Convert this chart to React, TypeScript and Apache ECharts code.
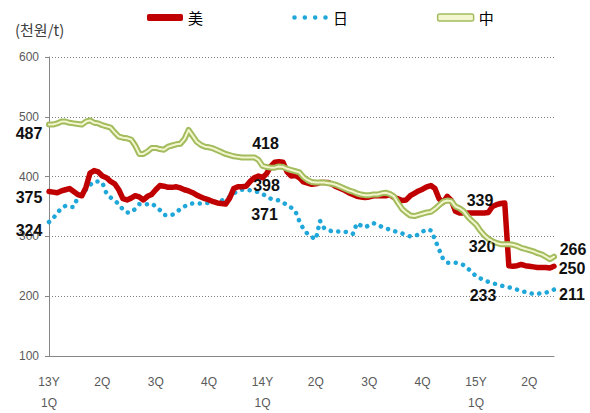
import React, { useEffect, useRef } from 'react';
import * as echarts from 'echarts';

// ---- data ----
const quarterLabels = ['13Y\n1Q', '2Q', '3Q', '4Q', '14Y\n1Q', '2Q', '3Q', '4Q', '15Y\n1Q', '2Q'];
const weeksPerQuarter = 13;

const meiValues = [
  375, 374, 373, 376, 378, 380, 375, 370, 368, 382,
  406, 410, 408, 401, 398, 392, 388, 378, 363, 361,
  364, 368, 366, 361, 367, 370, 378, 385, 384, 382,
  382, 383, 381, 378, 376, 373, 369, 366, 363, 361,
  358, 356, 355, 354, 364, 380, 383, 383, 384, 392,
  398, 401, 398, 405, 417, 424, 425, 424, 408, 401,
  402, 398, 391, 389, 387, 388, 390, 390, 390, 387,
  383, 380, 377, 373, 370, 367, 366, 365, 366, 368,
  368, 368, 368, 370, 365, 363, 360, 361, 368, 372,
  376, 379, 383, 385, 380, 363, 357, 367, 360, 342,
  339, 339, 339, 339, 339, 339, 339, 340, 350, 353,
  355, 356, 251, 250, 251, 253, 251, 250, 249, 248,
  248, 248, 247, 250,
];

const riValues = [
  324, 330, 339, 347, 351, 349, 349, 365, 372, 378,
  386, 392, 392, 390, 372, 365, 360, 354, 345, 340,
  340, 346, 354, 353, 354, 355, 350, 344, 336, 335,
  336, 340, 346, 350, 354, 355, 355, 355, 356, 356,
  357, 358, 360, 362, 366, 372, 376, 378, 378, 377,
  376, 374, 371, 367, 363, 362, 360, 357, 352, 348,
  342, 325, 312, 304, 299, 295, 326, 314, 311, 308,
  308, 308, 308, 306, 304, 322, 318, 315, 319, 322,
  320, 316, 314, 311, 309, 307, 305, 302, 300, 301,
  303, 308, 312, 310, 295, 278, 262, 256, 256, 256,
  255, 252, 246, 241, 233, 230, 227, 224, 222, 220,
  218, 216, 215, 213, 211, 209, 207, 205, 204, 204,
  205, 206, 208, 211,
];

const zhongValues = [
  487, 487, 489, 492, 492, 490, 489, 488, 487, 492,
  494, 490, 489, 486, 484, 482, 474, 467, 465, 464,
  462, 452, 438, 438, 442, 448, 448, 446, 445, 450,
  452, 454, 455, 463, 478, 468, 458, 453, 450, 449,
  447, 444, 441, 438, 436, 434, 433, 432, 432, 432,
  432, 428, 418, 416, 415, 415, 417, 416, 413, 411,
  409, 407, 399, 394, 391, 390, 390, 390, 389, 388,
  386, 383, 380, 377, 375, 372, 370, 369, 369, 370,
  370, 372, 373, 371, 367, 356, 346, 340, 335, 334,
  336, 338, 340, 341, 346, 352, 358, 360, 359, 350,
  347, 342, 333, 326, 320, 310, 302, 296, 292, 289,
  287, 287, 287, 286, 284, 281, 279, 277, 275, 272,
  270, 266, 262, 266,
];

// indices of annotated points (start, 14Y 1Q, 15Y 1Q, end)
const labelIndices = [0, 52, 104, 123];

const seriesNames = ['美', '日', '中'];
const unitLabel = '(천원/t)';

// ---- styles ----
const RED = '#C00000';
const CYAN = '#1FA7DA';
const OLIVE = '#A3BC5E';
const PALE = '#F3F6CF';
const LABEL_FONT = 'Liberation Sans, Arial, sans-serif';
const CJK_FONT = 'Noto Sans CJK KR, sans-serif';

const meiOffsets = [[-20, 6], [4, 8], [4, -13], [18, 2]];
const riOffsets = [[-20, 8], [2, 21], [7, 19], [18, 5]];
const zhongOffsets = [[-20, 9], [3, -22], [6, 22], [19, -7]];

const weekLabels = meiValues.map((_, i) =>
  i % weeksPerQuarter === 0 ? quarterLabels[i / weeksPerQuarter] ?? '' : ''
);

function withLabels(values: number[], offsets: number[][]) {
  return values.map((v, i) => {
    const k = labelIndices.indexOf(i);
    if (k < 0) return v;
    return {
      value: v,
      label: {
        show: true,
        position: 'inside',
        offset: offsets[k],
        formatter: '{c}',
        fontFamily: LABEL_FONT,
        fontWeight: 'bold',
        fontSize: 16,
        color: '#111',
      },
    };
  });
}

const dotIcon =
  'path://M0,0h0.01v0.01h-0.01zM0,7h0.01v-0.01h-0.01z' +
  'M0.2,3.5a2.3,2.3 0 1,0 4.6,0a2.3,2.3 0 1,0 -4.6,0z' +
  'M10.53,3.5a2.3,2.3 0 1,0 4.6,0a2.3,2.3 0 1,0 -4.6,0z' +
  'M20.87,3.5a2.3,2.3 0 1,0 4.6,0a2.3,2.3 0 1,0 -4.6,0z' +
  'M31.2,3.5a2.3,2.3 0 1,0 4.6,0a2.3,2.3 0 1,0 -4.6,0z';

const commonLine = {
  type: 'line',
  symbol: 'circle',
  symbolSize: 1,
  showSymbol: true,
  showAllSymbol: true,
  itemStyle: { color: 'rgba(0,0,0,0)' },
  label: { show: false },
  emphasis: { disabled: true },
  silent: true,
};

const option = {
  animation: false,
  backgroundColor: '#ffffff',
  title: {
    text: unitLabel,
    left: 10,
    top: 17,
    textStyle: { fontSize: 15, fontWeight: 'normal', color: '#404040', fontFamily: CJK_FONT },
  },
  legend: {
    left: 142,
    top: 5,
    itemGap: 89,
    itemWidth: 36,
    itemHeight: 7,
    selectedMode: false,
    textStyle: { fontSize: 15, color: '#000', fontFamily: CJK_FONT },
    data: [
      { name: seriesNames[0], icon: 'roundRect', itemStyle: { color: RED } },
      { name: seriesNames[1], icon: dotIcon, itemStyle: { color: CYAN } },
      {
        name: seriesNames[2],
        icon: 'roundRect',
        itemStyle: { color: PALE, borderColor: OLIVE, borderWidth: 1.5 },
      },
    ],
  },
  grid: { left: 49, right: 36, top: 57, bottom: 56, containLabel: false },
  xAxis: {
    type: 'category',
    boundaryGap: false,
    data: weekLabels,
    axisLine: { lineStyle: { color: '#868686', width: 1 } },
    axisTick: { show: false },
    axisLabel: {
      interval: 0,
      color: '#595959',
      fontSize: 12,
      lineHeight: 21,
      margin: 15,
      fontFamily: LABEL_FONT,
    },
    splitLine: { show: false },
  },
  yAxis: {
    type: 'value',
    min: 100,
    max: 600,
    interval: 100,
    axisLine: { show: true, lineStyle: { color: '#868686', width: 1 } },
    axisTick: { show: true, length: 4, lineStyle: { color: '#868686' } },
    axisLabel: { color: '#595959', fontSize: 12, margin: 10, fontFamily: LABEL_FONT },
    splitLine: { lineStyle: { color: '#7f7f7f', type: [1, 2], width: 1 } },
  },
  series: [
    {
      ...commonLine,
      name: seriesNames[1],
      data: withLabels(riValues, riOffsets),
      lineStyle: { color: CYAN, width: 4.5, type: [0.1, 7.5], cap: 'round' },
      z: 2,
    },
    {
      ...commonLine,
      name: seriesNames[0],
      data: withLabels(meiValues, meiOffsets),
      lineStyle: { color: RED, width: 5.5, join: 'round', cap: 'round' },
      z: 3,
    },
    {
      ...commonLine,
      name: seriesNames[2],
      data: withLabels(zhongValues, zhongOffsets),
      lineStyle: { color: OLIVE, width: 6, join: 'round', cap: 'round' },
      z: 4,
    },
    {
      ...commonLine,
      name: seriesNames[2] + '_inner',
      data: zhongValues,
      showSymbol: false,
      lineStyle: { color: PALE, width: 2, join: 'round', cap: 'round' },
      z: 5,
    },
  ],
};

export default function App() {
  const ref = useRef<HTMLDivElement>(null);
  useEffect(() => {
    if (!ref.current) return;
    const chart = echarts.init(ref.current, null, { renderer: 'svg' });
    chart.setOption(option as any);
    return () => chart.dispose();
  }, []);
  return (
    <div
      ref={ref}
      style={{ position: 'absolute', left: 0, top: 0, width: 590, height: 413, background: '#fff' }}
    />
  );
}
